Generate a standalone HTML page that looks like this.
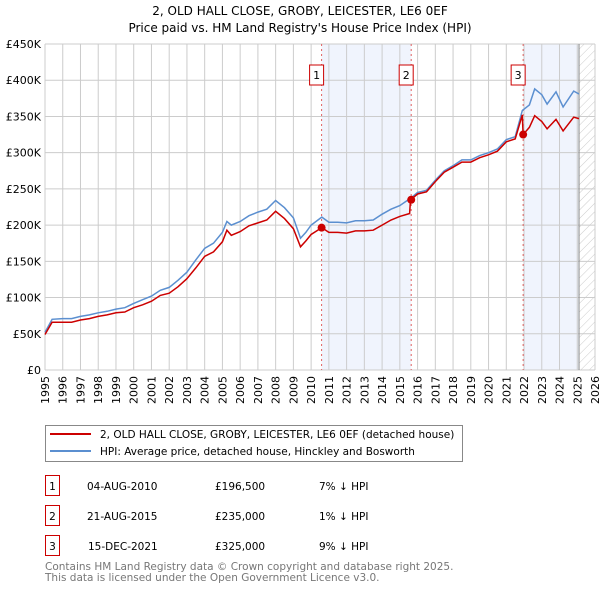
<!DOCTYPE html>
<html><head><meta charset="utf-8"><style>
body{margin:0;background:#fff;font-family:"DejaVu Sans","Liberation Sans",sans-serif;}
svg text{font-family:"DejaVu Sans","Liberation Sans",sans-serif;}
</style></head><body>
<svg id="c" width="600" height="590" xmlns="http://www.w3.org/2000/svg">
<defs><pattern id="hatch" width="6" height="6" patternUnits="userSpaceOnUse" patternTransform="rotate(45)"><line x1="0" y1="0" x2="0" y2="6" stroke="#ccc" stroke-width="1"/></pattern></defs>
<text x="300" y="15" text-anchor="middle" font-size="12">2, OLD HALL CLOSE, GROBY, LEICESTER, LE6 0EF</text>
<text x="300" y="32" text-anchor="middle" font-size="12">Price paid vs. HM Land Registry's House Price Index (HPI)</text>
<g id="plot"></g>
<g>
<rect x="45.5" y="425.5" width="417" height="36" fill="#fff" stroke="#888"/>
<line x1="50" y1="434" x2="91" y2="434" stroke="#cc0000" stroke-width="2"/>
<text x="100" y="438" font-size="10.5">2, OLD HALL CLOSE, GROBY, LEICESTER, LE6 0EF (detached house)</text>
<line x1="50" y1="451" x2="91" y2="451" stroke="#5b8fd0" stroke-width="2"/>
<text x="100" y="455" font-size="10.5">HPI: Average price, detached house, Hinckley and Bosworth</text>
</g>
<g font-size="10.5">
<rect x="45.5" y="475.5" width="14" height="20" fill="none" stroke="#c00"/><text x="52.5" y="490" text-anchor="middle">1</text>
<text x="87" y="490">04-AUG-2010</text><text x="215" y="490">£196,500</text><text x="319" y="490">7% ↓ HPI</text>
<rect x="45.5" y="505.5" width="14" height="20" fill="none" stroke="#c00"/><text x="52.5" y="520" text-anchor="middle">2</text>
<text x="87" y="520">21-AUG-2015</text><text x="215" y="520">£235,000</text><text x="319" y="520">1% ↓ HPI</text>
<rect x="45.5" y="535.5" width="14" height="20" fill="none" stroke="#c00"/><text x="52.5" y="550" text-anchor="middle">3</text>
<text x="88" y="550">15-DEC-2021</text><text x="215" y="550">£325,000</text><text x="319" y="550">9% ↓ HPI</text>
</g>
<text x="45" y="570" font-size="10.5" fill="#777">Contains HM Land Registry data © Crown copyright and database right 2025.</text>
<text x="45" y="581" font-size="10.5" fill="#777">This data is licensed under the Open Government Licence v3.0.</text>
</svg>
<script>
const hpiYears=[1995,1995.4,1996,1996.5,1997,1997.5,1998,1998.5,1999,1999.5,2000,2000.5,2001,2001.5,2002,2002.5,2003,2003.5,2004,2004.5,2005,2005.25,2005.5,2006,2006.5,2007,2007.5,2008,2008.5,2009,2009.4,2009.7,2010,2010.6,2011,2011.5,2012,2012.5,2013,2013.5,2014,2014.5,2015,2015.6,2016,2016.5,2017,2017.5,2018,2018.5,2019,2019.5,2020,2020.5,2021,2021.5,2021.9,2022.3,2022.6,2023,2023.3,2023.8,2024.2,2024.8,2025.1];
const hpiValues=[52,70,71,71,74,76,79,81,84,86,92,97,102,110,114,124,135,152,168,175,190,205,200,205,213,218,222,234,224,210,182,190,200,211,204,204,203,206,206,207,215,222,227,237,245,248,262,275,282,290,290,296,300,305,318,322,358,366,388,380,367,384,363,385,381];
const priceYears=[1995,1995.4,1996,1996.5,1997,1997.5,1998,1998.5,1999,1999.5,2000,2000.5,2001,2001.5,2002,2002.5,2003,2003.5,2004,2004.5,2005,2005.25,2005.5,2006,2006.5,2007,2007.5,2008,2008.5,2009,2009.4,2009.7,2010,2010.6,2011,2011.5,2012,2012.5,2013,2013.5,2014,2014.5,2015,2015.55,2015.6,2016,2016.5,2017,2017.5,2018,2018.5,2019,2019.5,2020,2020.5,2021,2021.5,2021.9,2021.95,2022.3,2022.6,2023,2023.3,2023.8,2024.2,2024.8,2025.1];
const priceValues=[49,66,66,66,69,71,74,76,79,80,86,90,95,103,106,115,126,141,157,163,177,193,186,191,199,203,207,219,209,195,170,178,187,196.5,190,190,189,192,192,193,200,207,212,216,235,243,246,260,273,280,287,287,293,297,302,315,319,352,325,335,351,343,333,346,330,349,347];
const sales=[{n:'1',t:2010.59},{n:'2',t:2015.64},{n:'3',t:2021.95}];
const salePrices=[196.5,235,325];
const yTicks=[0,50,100,150,200,250,300,350,400,450];
const xTicks=[];for(let y=1995;y<=2026;y++)xTicks.push(y);
const L=45,R=595,T=44,B=370;
const xs=t=>L+(t-1995)/(2026-1995)*(R-L);
const ys=v=>B-v/450*(B-T);
const NS='http://www.w3.org/2000/svg';
const g=document.getElementById('plot');
function mk(tag,at,par){const e=document.createElementNS(NS,tag);for(const k in at)e.setAttribute(k,at[k]);(par||g).appendChild(e);return e;}
const s1=mk('rect',{x:xs(sales[0].t),y:T,width:xs(sales[1].t)-xs(sales[0].t),height:B-T,fill:'#f0f4fd'});


const s2=mk('rect',{x:xs(sales[2].t),y:T,width:xs(2025.1)-xs(sales[2].t),height:B-T,fill:'#f0f4fd'});


const h=mk('rect',{x:xs(2025.1),y:T,width:R-xs(2025.1),height:B-T,fill:'url(#hatch)'});


xTicks.forEach(y=>{const l=mk('line',{x1:xs(y),x2:xs(y),y1:T,y2:B,stroke:'#ccc'});
 
 
 const t=mk('text',{x:0,y:0,'font-size':11,'text-anchor':'end',transform:`translate(${xs(y)+4},${B+6}) rotate(-90)`});t.textContent=y;
 
 });
yTicks.forEach(v=>{const l=mk('line',{x1:L,x2:R,y1:ys(v),y2:ys(v),stroke:'#ccc'});
 
 
 const t=mk('text',{x:L-4,y:ys(v)+4,'font-size':11,'text-anchor':'end'});t.textContent=v===0?'£0':'£'+v+'K';
 
 });
const ed=mk('line',{x1:xs(2025.1),x2:xs(2025.1),y1:T,y2:B,stroke:'#888'});


sales.forEach(s=>{const l=mk('line',{x1:xs(s.t),x2:xs(s.t),y1:T,y2:B,stroke:'#e06060','stroke-dasharray':'2,3'});
 
 
 const r=mk('rect',{x:xs(s.t)-12,y:65,width:14,height:20,fill:'#fff',stroke:'#c00'});
 
 
 const t=mk('text',{x:xs(s.t)-5,y:79,'font-size':11,'text-anchor':'middle'});t.textContent=s.n;
 
 });
const hp=mk('path',{d:hpiYears.map((t,i)=>(i?'L':'M')+xs(t).toFixed(1)+','+ys(hpiValues[i]).toFixed(1)).join(''),fill:'none',stroke:'#5b8fd0','stroke-width':1.5});


const pp=mk('path',{d:priceYears.map((t,i)=>(i?'L':'M')+xs(t).toFixed(1)+','+ys(priceValues[i]).toFixed(1)).join(''),fill:'none',stroke:'#cc0000','stroke-width':1.5});


sales.forEach((s,i)=>{const c=mk('circle',{cx:xs(s.t),cy:ys(salePrices[i]),r:4,fill:'#cc0000'});
 
 });
</script>
</body></html>
